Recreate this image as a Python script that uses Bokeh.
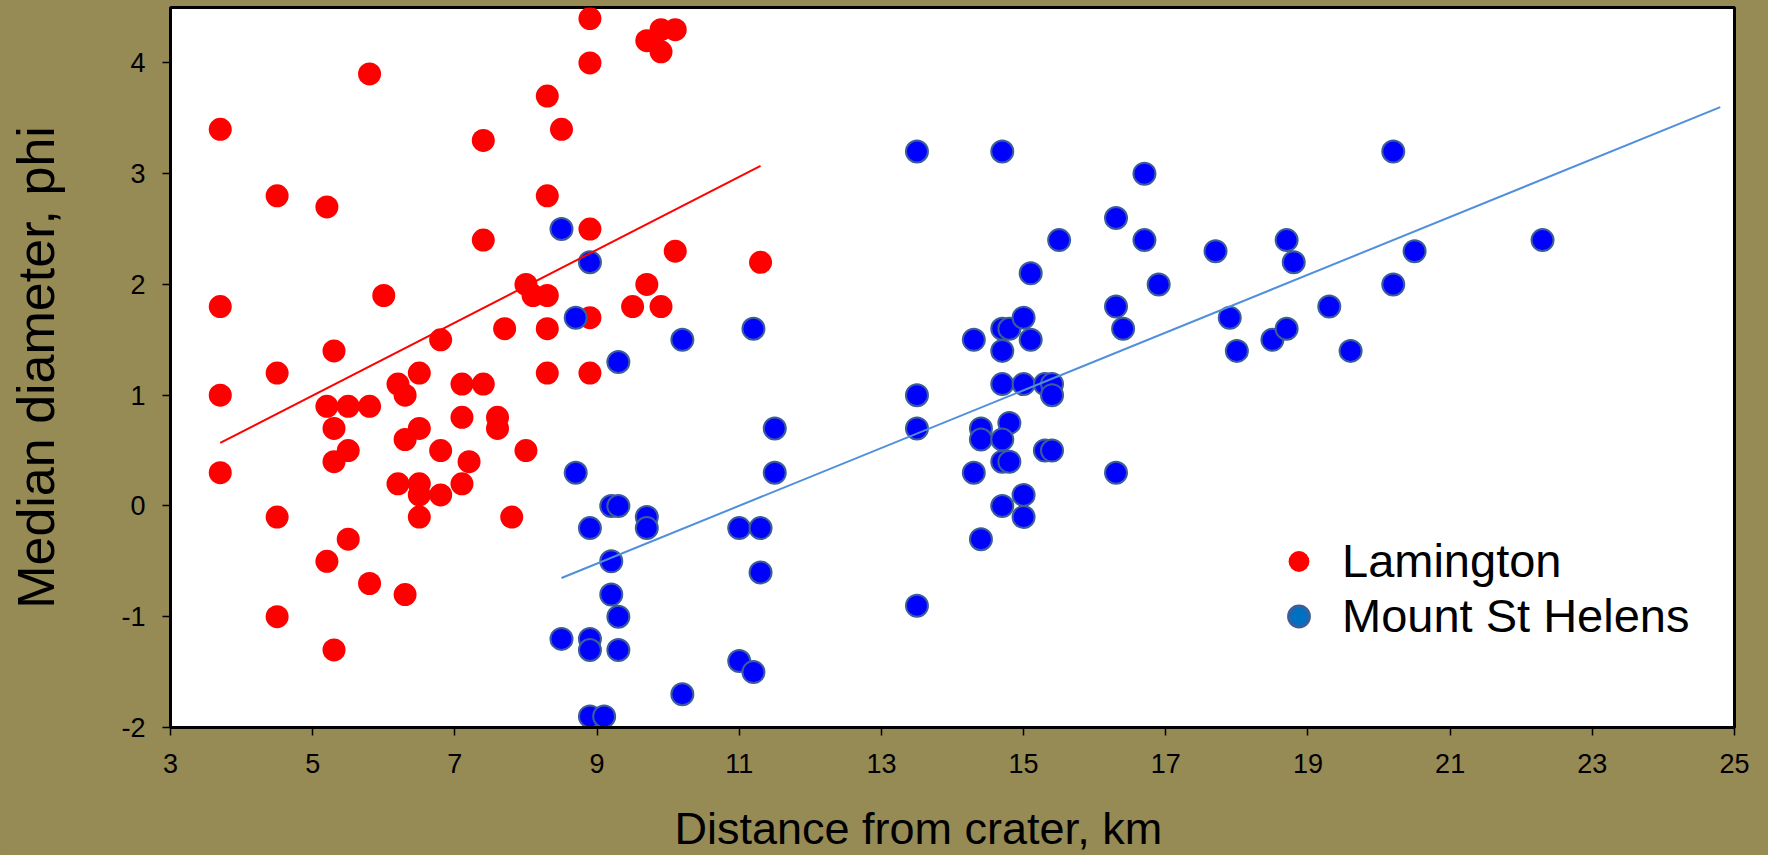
import numpy as np
from bokeh.plotting import figure
from bokeh.models import ColumnDataSource, Legend, LegendItem, FixedTicker, Range1d, Title
from bokeh.embed import file_html
from bokeh.resources import INLINE

# ---------------- data ----------------
series_names = ["Lamington", "Mount St Helens"]

lam_x = [3.7, 3.7, 3.7, 3.7,
         4.5, 4.5, 4.5, 4.5,
         5.2, 5.2, 5.2,
         5.3, 5.3, 5.3, 5.3,
         5.5, 5.5, 5.5,
         5.8, 5.8, 5.8,
         6.0,
         6.2, 6.2,
         6.3, 6.3, 6.3,
         6.5, 6.5, 6.5, 6.5, 6.5,
         6.8, 6.8, 6.8,
         7.1, 7.1, 7.1,
         7.2,
         7.4, 7.4, 7.4,
         7.6, 7.6,
         7.7,
         7.8,
         8.0, 8.0,
         8.1,
         8.3, 8.3, 8.3, 8.3, 8.3,
         8.5,
         8.9, 8.9, 8.9, 8.9, 8.9,
         9.5, 9.7, 9.7, 9.9, 9.9, 9.9, 10.1, 10.1, 11.3]
lam_y = [3.4, 1.8, 1.0, 0.3,
         2.8, 1.2, -0.1, -1.0,
         2.7, 0.9, -0.5,
         1.4, 0.7, 0.4, -1.3,
         0.9, 0.5, -0.3,
         3.9, 0.9, -0.7,
         1.9,
         1.1, 0.2,
         1.0, 0.6, -0.8,
         1.2, 0.7, 0.2, 0.1, -0.1,
         1.5, 0.5, 0.1,
         1.1, 0.8, 0.2,
         0.4,
         3.3, 2.4, 1.1,
         0.8, 0.7,
         1.6,
         -0.1,
         2.0, 0.5,
         1.9,
         3.7, 2.8, 1.9, 1.6, 1.2,
         3.4,
         4.4, 4.0, 2.5, 1.7, 1.2,
         1.8, 4.2, 2.0, 4.3, 4.1, 1.8, 4.3, 2.3, 2.2]

msh_x = [8.5, 8.9, 8.7, 10.2, 9.3, 11.2, 8.7, 9.2, 9.3, 9.7, 9.7, 8.9, 9.2, 9.2,
         9.3, 8.5, 8.9, 8.9, 9.3, 10.2, 8.9, 9.1, 11.5, 11.5, 11.0, 11.3, 11.3,
         11.0, 11.2,
         13.5, 14.7, 13.5, 13.5, 13.5, 14.3, 14.7, 14.8, 14.7, 15.0, 15.1, 15.1,
         15.5, 14.7, 15.0, 15.3, 15.4, 15.4, 14.8, 14.4, 14.4, 14.7, 14.7, 14.8,
         15.3, 15.4, 14.3, 16.3, 15.0, 14.7, 15.0, 14.4,
         16.7, 16.3, 16.7, 17.7, 16.9, 16.3, 16.4, 17.9, 18.0, 18.5, 18.7, 18.7,
         18.8, 19.3, 19.6, 20.2, 20.2, 20.5, 22.3]
msh_y = [2.5, 2.2, 1.7, 1.5, 1.3, 1.6, 0.3, 0.0, 0.0, -0.1, -0.2, -0.2, -0.5, -0.8,
         -1.0, -1.2, -1.2, -1.3, -1.3, -1.7, -1.9, -1.9, 0.7, 0.3, -0.2, -0.2, -0.6,
         -1.4, -1.5,
         3.2, 3.2, 1.0, 0.7, -0.9, 1.5, 1.6, 1.6, 1.4, 1.7, 1.5, 2.1,
         2.4, 1.1, 1.1, 1.1, 1.1, 1.0, 0.75, 0.7, 0.6, 0.6, 0.4, 0.4,
         0.5, 0.5, 0.3, 0.3, 0.1, 0.0, -0.1, -0.3,
         3.0, 2.6, 2.4, 2.3, 2.0, 1.8, 1.6, 1.7, 1.4, 1.5, 1.6, 2.4,
         2.2, 1.8, 1.4, 3.2, 2.0, 2.3, 2.4]

# linear trend lines (end points as drawn in the chart)
lam_fit_x = [3.7, 11.3]
lam_fit_y = [0.57, 3.07]
msh_fit_x = [8.5, 24.8]
msh_fit_y = [-0.65, 3.60]

x_ticks = [3, 5, 7, 9, 11, 13, 15, 17, 19, 21, 23, 25]
y_ticks = [-2, -1, 0, 1, 2, 3, 4]

x_title = "Distance from crater, km"
y_title = "Median diameter, phi"

# ---------------- style ----------------
BG = "#968A55"
FONT = "Liberation Sans"

p = figure(frame_width=1564, frame_height=720,
           x_range=Range1d(3, 25), y_range=Range1d(-2, 4.5),
           output_backend="svg", toolbar_location=None,
           min_border_left=170, min_border_right=32,
           min_border_top=7, min_border_bottom=125,
           background_fill_color="white", border_fill_color=BG,
           outline_line_color="black", outline_line_width=3)
p.grid.visible = False

src_lam = ColumnDataSource(dict(x=lam_x, y=lam_y))
src_msh = ColumnDataSource(dict(x=msh_x, y=msh_y))

p.scatter("x", "y", source=src_lam, size=23, fill_color="#FF0000", line_color=None)
p.scatter("x", "y", source=src_msh, size=22, fill_color="#0000FF",
          line_color="#3B5E9A", line_width=2)

p.line(lam_fit_x, lam_fit_y, line_color="#FF0000", line_width=2)
p.line(msh_fit_x, msh_fit_y, line_color="#4F8FDB", line_width=2)

# legend-only renderers (nothing drawn in the plot area)
nan_src = ColumnDataSource(dict(x=np.array([np.nan]), y=np.array([np.nan])))
leg_lam = p.scatter("x", "y", source=nan_src, fill_color="#FF0000", line_color=None)
leg_msh = p.scatter("x", "y", source=nan_src, fill_color="#0070C0",
                    line_color="#3B5E9A", line_width=3)

legend = Legend(items=[LegendItem(label=series_names[0], renderers=[leg_lam]),
                       LegendItem(label=series_names[1], renderers=[leg_msh])],
                location=(1101, 84), glyph_width=55, glyph_height=52,
                label_height=52, label_standoff=16, spacing=-4, padding=0, margin=0,
                border_line_alpha=0, background_fill_alpha=0,
                label_text_font_size="47px", label_text_font=FONT,
                label_text_color="black")
p.add_layout(legend)

for ax in (p.xaxis[0], p.yaxis[0]):
    ax.axis_line_color = "black"
    ax.axis_line_width = 3
    ax.major_tick_out = 8
    ax.major_tick_in = 0
    ax.minor_tick_out = 0
    ax.minor_tick_in = 0
    ax.major_tick_line_color = "black"
    ax.major_tick_line_width = 1.5
    ax.major_label_text_font = FONT
    ax.major_label_text_font_size = "27px"
    ax.major_label_text_color = "black"
    ax.axis_label_text_font = FONT
    ax.axis_label_text_font_style = "normal"
    ax.axis_label_text_color = "black"

p.xaxis.ticker = FixedTicker(ticks=x_ticks)
p.yaxis.ticker = FixedTicker(ticks=y_ticks)
# plain hyphen-minus for negative tick labels, as in the original
p.yaxis.major_label_overrides = {t: str(t) for t in y_ticks}
p.xaxis.major_label_overrides = {t: str(t) for t in x_ticks}
p.xaxis.major_label_standoff = 18
p.yaxis.major_label_standoff = 17

p.yaxis.axis_label = y_title
p.yaxis.axis_label_text_font_size = "52px"
p.yaxis.axis_label_standoff = 53

# x-axis title as a below title (left-aligned with an offset, as in the original)
xt = Title(text=x_title, align="left", offset=504, standoff=54,
           vertical_align="top", text_font=FONT, text_font_size="45px",
           text_font_style="normal", text_color="black")
p.add_layout(xt, "below")

html = file_html(p, INLINE, title="Median diameter vs distance")
css = ("<style>html,body{margin:0;padding:0;overflow:hidden;"
       "background-color:%s;}</style></head>" % BG)
html = html.replace("</head>", css, 1)
open("out.html", "w").write(html)
